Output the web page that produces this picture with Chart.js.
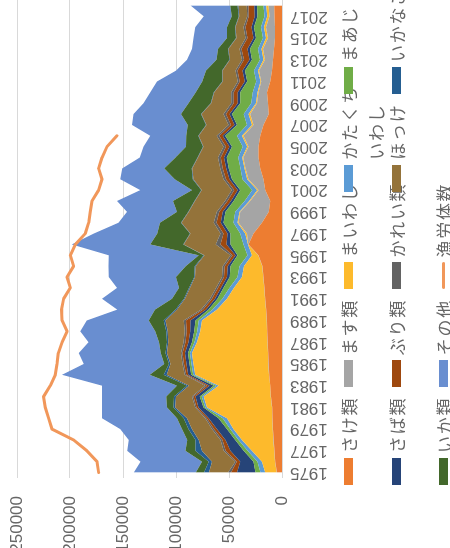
<!DOCTYPE html>
<html lang="ja">
<head>
<meta charset="utf-8">
<title>魚種別漁獲量と漁労体数</title>
<script src="https://cdn.jsdelivr.net/npm/chart.js@4.4.1/dist/chart.umd.min.js"></script>
<style>
  html, body { margin: 0; padding: 0; background: #fff; overflow: hidden; }
  body { width: 450px; height: 548px; position: relative; }
  /* the chart is laid out landscape and turned a quarter turn counter-clockwise */
  #frame {
    position: absolute; left: 0; top: 0;
    width: 548px; height: 450px;
    transform-origin: 0 0;
    transform: translate(0, 548px) rotate(-90deg);
    background: #fff; overflow: hidden;
  }
  #plot { position: absolute; left: 0; top: 0; }
  .key { position: absolute; width: 27px; height: 9px; }
  .key.stroke { height: 3px; border-radius: 1.5px; }
  .name {
    position: absolute; width: 80px;
    font-family: "Noto Sans CJK JP", sans-serif;
    font-size: 17px; letter-spacing: 1.7px; line-height: 27.5px;
    color: #666; white-space: normal; word-break: break-all;
  }
</style>
</head>
<body>
<div id="frame">
  <canvas id="plot" width="548" height="450"></canvas>
  <div id="legend"></div>
</div>
<script>
// 年次
const years = [1975,1976,1977,1978,1979,1980,1981,1982,1983,1984,
               1985,1986,1987,1988,1989,1990,1991,1992,1993,1994,
               1995,1996,1997,1998,1999,2000,2001,2002,2003,2004,
               2005,2006,2007,2008,2009,2010,2011,2012,2013,2014,
               2015,2016,2017,2018];
// 目盛に表示する年
const yearTicks = [1975,1977,1979,1981,1983,1985,1987,1989,1991,1993,1995,
                   1997,1999,2001,2003,2005,2007,2009,2011,2013,2015,2017];
const valueTicks = [0,50000,100000,150000,200000,250000];

// 魚種別漁獲量
const sake = [4700,6300,7000,7900,8500,8900,9200,10400,11000,12000,
              12600,12900,13400,13900,14200,14800,15800,16400,17400,18300,
              22100,31500,26800,18900,12600,11000,15800,17400,20500,22100,
              22100,20500,17400,12600,13200,14200,11000,9400,8500,7500,
              6600,6600,7100,7300];
const masu = [200,300,200,300,300,200,300,300,200,300,
              300,200,300,300,300,300,200,300,300,300,
              300,300,6200,22100,26700,18900,6300,14200,14000,14500,
              9400,15800,9400,17300,10400,7900,8500,12300,7500,10400,
              6600,8500,4700,5400];
const maiwashi = [10800,12300,21000,29500,36900,42700,61300,63200,48500,69500,
                  70500,71700,66500,62900,61000,46200,35800,28600,20100,17300,
                  5900,300,1600,900,900,900,1200,1200,900,900,
                  1200,1500,1500,1600,900,900,900,900,1400,1400,
                  1900,1900,2200,2200];
const katakuchi = [4700,4200,4200,3300,3100,4200,1600,1900,2400,1900,
                   1900,1900,2400,2800,3100,4200,4300,4200,4100,4300,
                   4200,4200,4700,3800,3800,4400,4700,4400,3800,3800,
                   4400,4700,4700,4700,4400,4700,3800,3800,3300,3300,
                   2800,2800,2500,2500];
const maaji = [4700,3700,3800,3000,3100,3800,1600,1900,2400,1900,
               1900,1900,2400,2800,3100,3800,4700,5700,7500,8500,
               9400,12300,9400,9400,9400,10400,11300,10000,11000,10900,
               10000,11000,9400,10900,10400,11600,8500,8500,7500,7500,
               6600,6600,6600,6300];
const saba = [17300,12500,12500,9400,9400,9400,4700,3800,3800,2800,
              2800,2800,3300,3800,4700,2400,2400,2400,2400,2400,
              1900,3800,2800,2800,2400,2400,2400,2400,2400,2400,
              2400,2400,2400,2400,2400,2400,2400,2400,2400,2400,
              2400,2400,2500,2500];
const buri = [5700,3300,4400,2800,2800,1900,1900,1900,2400,1900,
              2400,2400,2800,3300,4100,2800,2800,2800,2800,2800,
              2800,5700,3800,3800,3300,3300,3300,3300,3300,3300,
              3300,3300,3300,3300,3800,3800,4700,4700,5200,5700,
              5700,5700,5700,5400];
const karei = [2800,1400,1900,1900,1900,1200,1200,1400,1900,1400,
               1400,1400,1900,1900,2200,1900,1900,1900,1900,1900,
               1900,4300,2800,2800,2400,2400,2400,2400,2400,2400,
               2400,2400,2400,2400,2400,2400,1900,1900,1900,1900,
               1900,1900,1600,1600];
const hokke = [17900,22000,20400,20500,18900,17300,18900,15100,15100,17000,
               11300,13200,14200,16000,17300,22600,23600,24500,25500,25500,
               24500,30200,28300,30200,26400,28300,28300,28300,26400,18900,
               18900,17000,20800,20800,18900,16000,14200,12300,11300,10400,
               8500,7500,7500,7800];
const ikanago = [4700,3200,6300,3100,3200,3200,1600,1900,1900,2800,
                 1400,1400,1400,1400,1600,1400,900,900,900,900,
                 900,500,500,500,500,500,500,500,500,500,
                 500,500,500,500,500,500,500,500,500,500,
                 500,500,500,900];
const ika = [7800,6200,9400,7800,6200,6200,6200,7500,9400,13200,
             4700,4700,7500,10400,14200,19300,11300,9400,17000,8500,
             4700,31300,30900,19800,10700,20300,8800,17000,26000,20800,
             16000,11300,17000,18900,20800,17000,18900,15100,12300,9400,
             8500,7500,6600,6900];
const sonota = [58600,58200,55000,55100,58200,70800,61300,60600,70800,82800,
                75900,77300,66400,70800,58300,35800,66000,58500,63600,73000,
                84800,73900,59800,39200,47200,52900,48800,51600,39600,33700,
                40000,34000,52800,44700,42600,42900,42700,28300,27800,24500,
                31500,29900,26400,37600];
// 漁労体数（2006年まで）
const gyorotaisu = [173000,174500,184000,196600,217000,220200,223300,224900,218600,213900,
                    212300,211000,207500,202800,207500,208000,206000,199700,202800,196600,
                    199700,195000,185600,182400,180800,179200,173000,169800,173000,169800,
                    165100,155700,null,null,null,null,null,null,null,null,
                    null,null,null,null];

const areaSeries = [
  ['さけ類', sake, '#ED7D31'],
  ['ます類', masu, '#A5A5A5'],
  ['まいわし', maiwashi, '#FDBA2C'],
  ['かたくちいわし', katakuchi, '#5B9BD5'],
  ['まあじ', maaji, '#70AD47'],
  ['さば類', saba, '#264478'],
  ['ぶり類', buri, '#9E480E'],
  ['かれい類', karei, '#636363'],
  ['ほっけ', hokke, '#94733A'],
  ['いかなご', ikanago, '#255E91'],
  ['いか類', ika, '#43682B'],
  ['その他', sonota, '#698ED0']
];

const points = arr => years.map((yr, i) => ({ x: yr, y: arr[i] }));

const datasets = areaSeries.map(([label, values, color], i) => ({
  label,
  data: points(values),
  backgroundColor: color,
  borderColor: 'rgba(0,0,0,0)',
  borderWidth: 0,
  fill: i === 0 ? 'origin' : '-1',
  pointRadius: 0,
  tension: 0,
  yAxisID: 'y',
  order: 1
}));
datasets.push({
  label: '漁労体数',
  data: points(gyorotaisu),
  borderColor: '#F1975A',
  backgroundColor: '#F1975A',
  borderWidth: 3,
  borderJoinStyle: 'round',
  borderCapStyle: 'round',
  fill: false,
  pointRadius: 0,
  tension: 0,
  yAxisID: 'y2',
  order: 0
});

const tickFont = { family: '"Liberation Sans Narrow", "Liberation Sans", Arial, sans-serif', size: 17 };

const chart = new Chart(document.getElementById('plot'), {
  type: 'line',
  data: { datasets },
  options: {
    responsive: false,
    animation: false,
    layout: { padding: { top: 17, right: 0, bottom: 0, left: 0 } },
    plugins: { legend: { display: false }, tooltip: { enabled: false } },
    scales: {
      x: {
        type: 'linear',
        min: 1974.5,
        max: 2018.5,
        afterBuildTicks: s => { s.ticks = yearTicks.map(v => ({ value: v })); },
        afterFit: s => { s.height = 168; s.paddingLeft = 0; s.paddingRight = 0; },
        grid: { display: false, drawTicks: false },
        border: { display: true, color: '#D9D9D9', width: 1 },
        ticks: {
          autoSkip: false, minRotation: 90, maxRotation: 90, padding: 8,
          color: '#666', font: tickFont,
          callback: v => String(v)
        }
      },
      y: {
        stacked: true,
        min: 0,
        max: 250000,
        afterBuildTicks: s => { s.ticks = valueTicks.map(v => ({ value: v })); },
        afterFit: s => { s.width = 70; s.paddingTop = 0; s.paddingBottom = 0; },
        grid: { color: '#D9D9D9', lineWidth: 1, drawTicks: false },
        border: { display: false },
        ticks: { padding: 18, color: '#666', font: tickFont, callback: v => String(v) }
      },
      y2: { display: false, min: 0, max: 250000 }
    }
  }
});

// 凡例（5列×3行）
const legendBox = document.getElementById('legend');
const colLeft = 63, colStep = 97.75, rowMid = [348.5, 396.5, 443.5];
chart.data.datasets.forEach((ds, i) => {
  const col = i % 5, row = Math.floor(i / 5);
  const left = colLeft + col * colStep;
  const key = document.createElement('div');
  const isLine = ds.fill === false;
  key.className = isLine ? 'key stroke' : 'key';
  key.style.left = left + 'px';
  key.style.top = (rowMid[row] - (isLine ? 1.5 : 4.5)) + 'px';
  key.style.background = isLine ? ds.borderColor : ds.backgroundColor;
  legendBox.appendChild(key);
  const name = document.createElement('div');
  name.className = 'name';
  name.textContent = ds.label;
  name.style.left = (left + 32) + 'px';
  name.style.top = (rowMid[row] - 13.75) + 'px';
  legendBox.appendChild(name);
});
</script>
</body>
</html>
